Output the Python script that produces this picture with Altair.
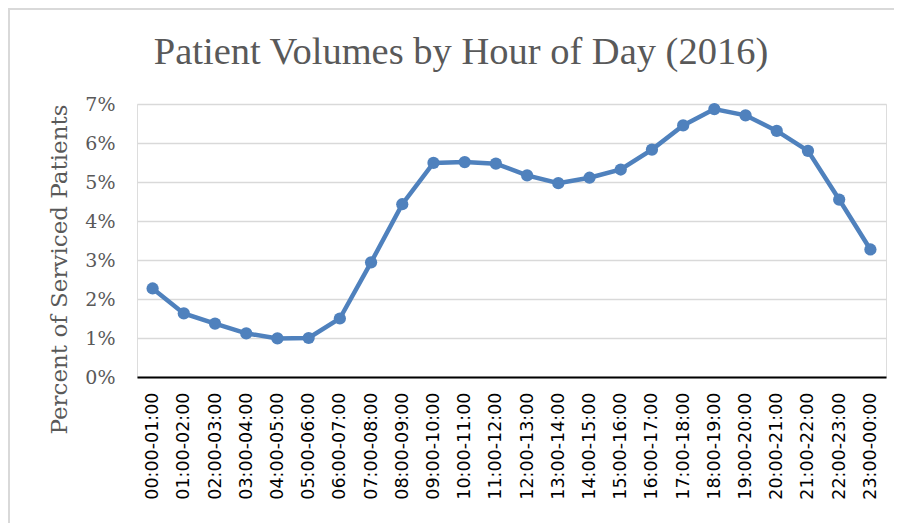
import altair as alt
import pandas as pd

hours = ["00:00-01:00", "01:00-02:00", "02:00-03:00", "03:00-04:00", "04:00-05:00",
         "05:00-06:00", "06:00-07:00", "07:00-08:00", "08:00-09:00", "09:00-10:00",
         "10:00-11:00", "11:00-12:00", "12:00-13:00", "13:00-14:00", "14:00-15:00",
         "15:00-16:00", "16:00-17:00", "17:00-18:00", "18:00-19:00", "19:00-20:00",
         "20:00-21:00", "21:00-22:00", "22:00-23:00", "23:00-00:00"]
share = [0.0227, 0.0163, 0.0137, 0.0112, 0.0099, 0.0100, 0.0150, 0.0294,
         0.0443, 0.0549, 0.0551, 0.0547, 0.0517, 0.0497, 0.0511, 0.0532,
         0.0583, 0.0645, 0.0687, 0.0671, 0.0631, 0.0580, 0.0455, 0.0327]
title_text = "Patient Volumes by Hour of Day (2016)"

df = pd.DataFrame({"hour": hours, "share": share})
one = pd.DataFrame({"t": [title_text]})

SERIF = "DejaVu Serif"
GREY = "#595959"
BLUE = "#4F81BD"

x = alt.X("hour:N", sort=hours, title=None,
          scale=alt.Scale(paddingOuter=0.5, paddingInner=0),
          axis=alt.Axis(labelAngle=-90, labelFont="DejaVu Sans", labelFontSize=17.5,
                        labelColor="#000000", labelPadding=15, ticks=False,
                        domain=True, domainColor="#000000", domainWidth=2,
                        labelAlign="right", labelBaseline="middle", grid=False))
y = alt.Y("share:Q", title="Percent of Serviced Patients",
          scale=alt.Scale(domain=[0, 0.07]),
          axis=alt.Axis(format=".0%", values=[0, 0.01, 0.02, 0.03, 0.04, 0.05, 0.06, 0.07],
                        labelFont=SERIF, labelFontSize=19, labelColor=GREY,
                        labelPadding=22, ticks=False, domain=False,
                        titleFont=SERIF, titleFontSize=23, titleColor=GREY,
                        titleFontWeight="normal", titleAngle=-90,
                        titleX=-78, titleY=165, titleAlign="center",
                        titleBaseline="middle",
                        gridColor="#D9D9D9", gridWidth=1.5))

line = alt.Chart(df).mark_line(color=BLUE, strokeWidth=4.5).encode(x=x, y=y)
pts = alt.Chart(df).mark_point(filled=True, color=BLUE, size=150, opacity=1).encode(x=x, y=y)

title = alt.Chart(one).mark_text(font="Liberation Serif", fontSize=38.5, color=GREY,
                                 align="center", baseline="alphabetic").encode(
    x=alt.value(324), y=alt.value(-40), text="t:N")

border = alt.Chart(one).mark_rule(color="#D9D9D9", strokeWidth=2).encode(
    x=alt.value(-129), x2=alt.value(760), y=alt.value(-95))
border2 = alt.Chart(one).mark_rule(color="#D9D9D9", strokeWidth=2).encode(
    x=alt.value(-128), y=alt.value(-96), y2=alt.value(420))

chart = alt.layer(line, pts, title, border, border2).properties(
    width=749, height=273,
    autosize=alt.AutoSizeParams(type="none"),
    padding={"left": 129, "top": 96, "right": 8, "bottom": 146},
).configure_view(stroke=None).configure(background="white")

chart.save("out.html", embed_options={"renderer": "svg", "actions": False})
